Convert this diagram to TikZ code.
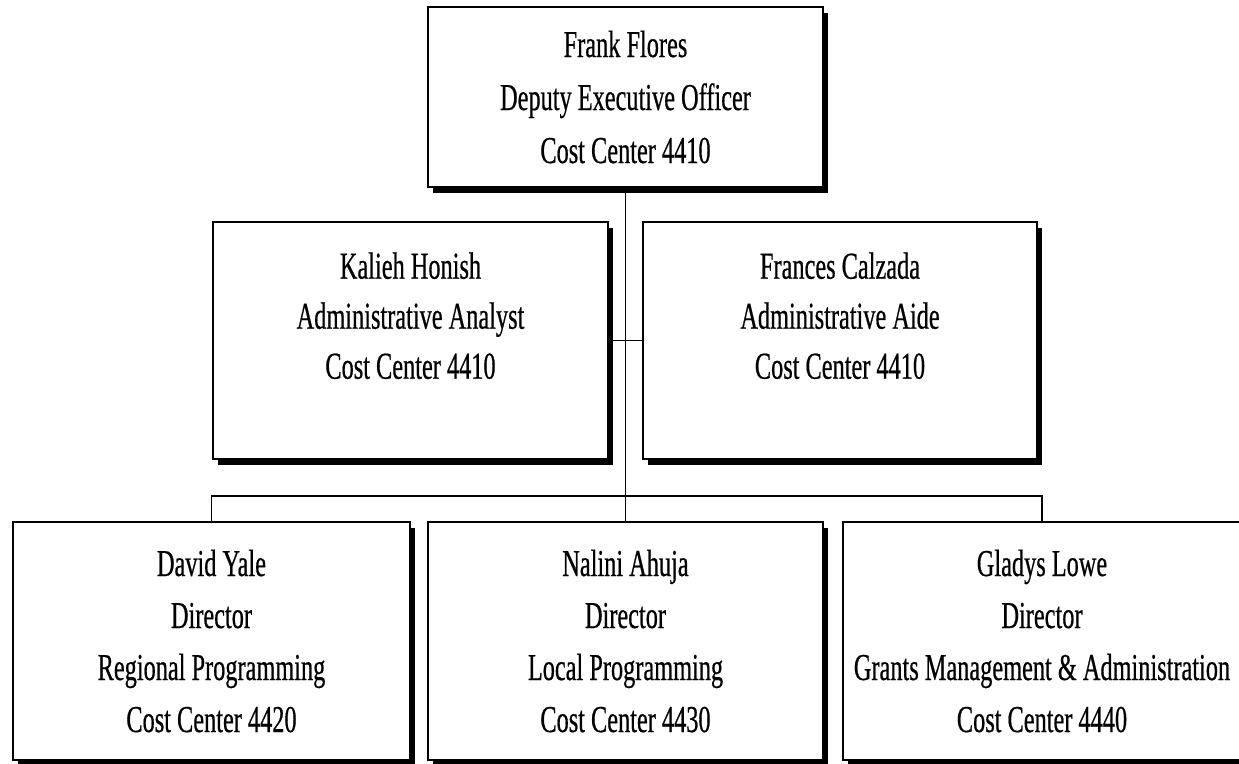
\documentclass[tikz,border=0pt]{standalone}
\usepackage{fontspec}
\newfontfamily\orgfont{Liberation Serif}[FakeStretch=0.64,FakeBold=0.5]
\usetikzlibrary{shadows}
\begin{document}
\begin{tikzpicture}[x=1pt,y=-1pt,
  box/.style={draw=black, line width=1.9pt, fill=white, rectangle, inner sep=0pt,
    align=center, font=\orgfont\fontsize{38}{52}\selectfont,
    drop shadow={shadow xshift=5pt, shadow yshift=-6pt, fill=black, opacity=1}},
  link/.style={draw=black, line width=1.6pt}]
\useasboundingbox (0,0) rectangle (1239,763);
\fill[white] (0,0) rectangle (1239,763);
% top
\node[box, minimum width=395pt, minimum height=180pt,
      font=\orgfont\fontsize{38}{53}\selectfont] (top) at (625.5,97)
  {Frank Flores\\Deputy Executive Officer\\Cost Center 4410};
% middle row
\node[box, minimum width=395pt, minimum height=237pt,
      font=\orgfont\fontsize{38}{50}\selectfont] (kh) at (410.5,340.5)
  {Kalieh Honish\\Administrative Analyst\\Cost Center 4410\\\mbox{}};
\node[box, minimum width=394pt, minimum height=237pt,
      font=\orgfont\fontsize{38}{50}\selectfont] (fc) at (840,340.5)
  {Frances Calzada\\Administrative Aide\\Cost Center 4410\\\mbox{}};
% bottom row
\node[box, minimum width=397pt, minimum height=238pt] (dy) at (211.5,641)
  {David Yale\\Director\\Regional Programming\\Cost Center 4420};
\node[box, minimum width=395pt, minimum height=238pt] (na) at (625.5,641)
  {Nalini Ahuja\\Director\\Local Programming\\Cost Center 4430};
\node[box, minimum width=398pt, minimum height=238pt] (gl) at (1042,641)
  {Gladys Lowe\\Director\\Grants Management \& Administration\\Cost Center 4440};
% connectors
\coordinate (bus) at (625.5,496);
\draw[link] (top.south) -- (na.north);
\draw[link] (kh.east) -- (fc.west);
\draw[link] (dy.north) |- (bus) -| (gl.north);
\end{tikzpicture}
\end{document}
